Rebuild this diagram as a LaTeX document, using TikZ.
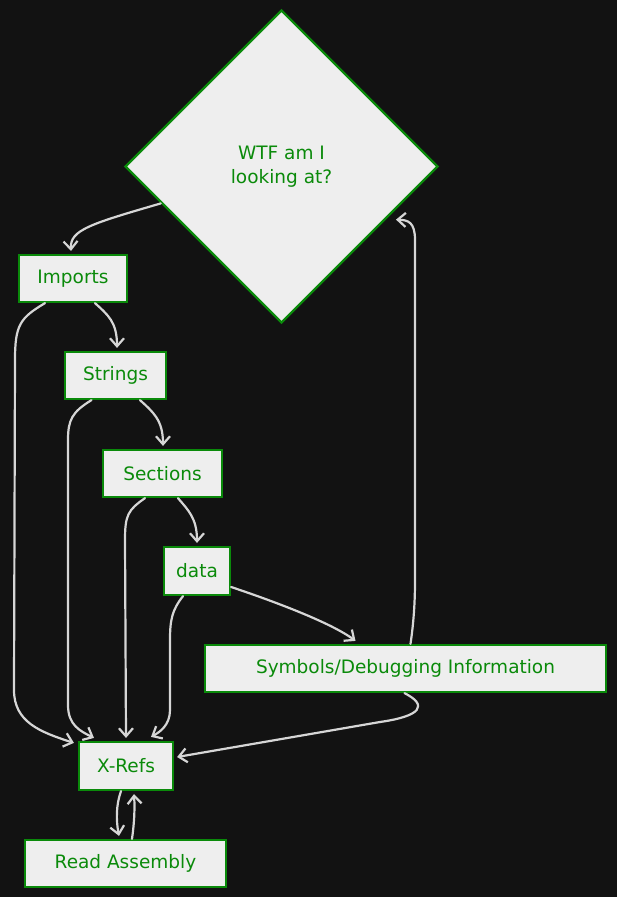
\documentclass[tikz,border=0pt]{standalone}
\usepackage{fontspec}
\setmainfont{DejaVu Sans}
\usetikzlibrary{shapes.geometric,arrows.meta,calc}
\definecolor{bg}{HTML}{121212}
\definecolor{gr}{HTML}{0A8A0A}
\definecolor{fillc}{HTML}{EEEEEE}
\definecolor{ln}{HTML}{D6D6D6}
\begin{document}
\begin{tikzpicture}[x=1pt,y=1pt,
  box/.style={draw=gr, line width=2.2pt, fill=fillc, text=gr, inner sep=0pt,
    font=\fontsize{18.5}{24}\selectfont, align=center},
  conn/.style={draw=ln, line width=2.2pt, line cap=round, line join=round,
    -{Straight Barb[length=8pt,width=14pt]}}]
\useasboundingbox (0,0) rectangle (616,-897);
\fill[bg] (-3,3) rectangle (619,-900);

\node[box, diamond, aspect=1, minimum width=313pt, minimum height=313pt] (w) at (281.5,-166.5) {WTF am I\\looking at?};
\node[box, minimum width=108pt, minimum height=47pt] (imp) at (73,-278.5) {Imports};
\node[box, minimum width=101pt, minimum height=47pt] (str) at (115.5,-375.5) {Strings};
\node[box, minimum width=119pt, minimum height=47pt] (sec) at (162.5,-473.5) {Sections};
\node[box, minimum width=66pt, minimum height=48pt] (dat) at (197,-571) {data};
\node[box, minimum width=401pt, minimum height=47pt] (sym) at (405.5,-668.5) {Symbols/Debugging Information};
\node[box, minimum width=94pt, minimum height=48pt] (xr) at (126,-766) {X-Refs};
\node[box, minimum width=201pt, minimum height=47pt] (ra) at (125.5,-863.5) {Read Assembly};

% diamond -> Imports
\draw[conn] (w.197) .. controls (90,-224) and (70,-230) .. ([xshift=-2pt,yshift=3pt]imp.north);
% Imports -> Strings
\draw[conn] ([xshift=22pt]imp.south) .. controls (108,-315) and (117,-322) .. ([xshift=1.5pt,yshift=3pt]str.north);
% Strings -> Sections
\draw[conn] ([xshift=24.5pt]str.south) .. controls (153,-412) and (163,-420) .. ([xshift=0.5pt,yshift=3pt]sec.north);
% Sections -> data
\draw[conn] ([xshift=15.5pt]sec.south) .. controls (188,-510) and (197,-518) .. ([yshift=3pt]dat.north);
% data -> Symbols
\draw[conn] ([yshift=-16pt]dat.east) .. controls (270,-600) and (330,-622) .. ([xshift=-50pt,yshift=3pt]sym.north);
% Imports -> X-Refs
\draw[conn] ([xshift=-28pt]imp.south) .. controls (20,-318) and (15,-325) .. (15,-360) -- (14,-690) .. controls (14,-722) and (40,-732) .. ([xshift=-4pt,yshift=-2pt]xr.north west);
% Strings -> X-Refs
\draw[conn] ([xshift=-24pt]str.south) .. controls (72,-412) and (68,-420) .. (68,-440) -- (68,-705) .. controls (68,-725) and (80,-731) .. ([xshift=-32pt,yshift=3pt]xr.north);
% Sections -> X-Refs
\draw[conn] ([xshift=-17.5pt]sec.south) .. controls (128,-510) and (125,-515) .. (125,-540) -- ([yshift=3pt]xr.north);
% data -> X-Refs
\draw[conn] ([xshift=-14pt]dat.south) .. controls (172,-610) and (170,-620) .. (170,-640) -- (170,-710) .. controls (170,-725) and (160,-732) .. ([xshift=25pt,yshift=4pt]xr.north);
% Symbols -> X-Refs
\draw[conn] ([xshift=-1pt]sym.south) .. controls (428,-705) and (422,-716) .. (380,-722) -- ([xshift=3pt,yshift=9pt]xr.east);
% Symbols -> diamond
\draw[conn] ([xshift=5pt]sym.north) .. controls (414,-620) and (415,-600) .. (415,-580) -- (415,-240) .. controls (415,-222) and (408,-220) .. ([xshift=7pt,yshift=-3pt]w.-25);
% X-Refs <-> Read Assembly
\draw[conn] ([xshift=-5pt]xr.south) .. controls (116,-805) and (116,-820) .. ([xshift=-6.5pt,yshift=3pt]ra.north);
\draw[conn] ([xshift=6.5pt]ra.north) .. controls (134,-825) and (135,-810) .. ([xshift=8pt,yshift=-3pt]xr.south);
\end{tikzpicture}
\end{document}
